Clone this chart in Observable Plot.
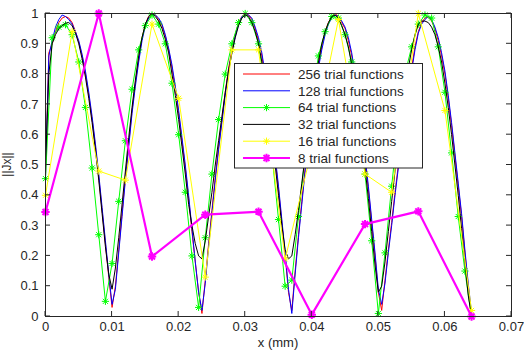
<!DOCTYPE html>
<html><head><meta charset="utf-8">
<script src="https://cdn.jsdelivr.net/npm/d3@7"></script>
<script src="https://cdn.jsdelivr.net/npm/@observablehq/plot@0.6"></script>
<style>body{margin:0;background:#fff} svg{display:block}</style>
</head><body><div id="chart"></div>
<script>
// tick labels
const xTicks = [0, 0.01, 0.02, 0.03, 0.04, 0.05, 0.06, 0.07];
const yTicks = [0, 0.1, 0.2, 0.3, 0.4, 0.5, 0.6, 0.7, 0.8, 0.9, 1];

// legend names
const names = ["256 trial functions", "128 trial functions", "64 trial functions",
               "32 trial functions", "16 trial functions", "8 trial functions"];

// x sampling steps of each series (mm)
const stepFine = 0.0005, step64 = 0.001, step16 = 0.004, step8 = 0.008;

// ||Jx||
const red256 = [
  0.47,0.87,0.90,0.94,0.97,0.985,0.99,0.985,0.97,0.94,
  0.905,0.86,0.80,0.73,0.65,0.56,0.46,0.35,0.24,0.13,
  0.03,0.10,0.22,0.34,0.46,0.57,0.68,0.77,0.85,0.92,
  0.965,0.99,1.0,0.995,0.98,0.96,0.925,0.88,0.82,0.75,
  0.67,0.58,0.49,0.39,0.28,0.18,0.08,0.01,0.12,0.24,
  0.35,0.46,0.56,0.65,0.74,0.82,0.88,0.93,0.97,0.99,
  1.0,0.995,0.98,0.95,0.91,0.86,0.79,0.71,0.62,0.52,
  0.42,0.31,0.20,0.08,0.02,0.15,0.27,0.38,0.49,0.59,
  0.68,0.76,0.83,0.89,0.94,0.97,0.99,1.0,0.99,0.97,
  0.95,0.91,0.86,0.79,0.71,0.62,0.52,0.42,0.31,0.20,
  0.08,0.02,0.12,0.22,0.31,0.41,0.50,0.58,0.66,0.74,
  0.82,0.89,0.94,0.97,0.985,0.99,0.975,0.95,0.91,0.86,
  0.80,0.72,0.63,0.53,0.43,0.33,0.21,0.10,0.0];
const blue128 = [
  0.46,0.86,0.91,0.955,0.98,0.995,0.99,0.98,0.965,0.94,
  0.91,0.865,0.81,0.74,0.66,0.57,0.47,0.36,0.25,0.14,
  0.04,0.09,0.21,0.33,0.45,0.56,0.67,0.76,0.84,0.91,
  0.96,0.985,0.995,0.995,0.985,0.965,0.93,0.885,0.83,0.76,
  0.68,0.59,0.50,0.40,0.29,0.18,0.08,0.02,0.11,0.23,
  0.34,0.45,0.55,0.64,0.73,0.81,0.87,0.925,0.965,0.99,
  0.995,0.995,0.985,0.955,0.92,0.87,0.80,0.72,0.63,0.53,
  0.43,0.32,0.21,0.09,0.01,0.14,0.26,0.37,0.48,0.58,
  0.67,0.75,0.82,0.88,0.93,0.965,0.985,0.995,0.99,0.975,
  0.955,0.92,0.87,0.80,0.72,0.63,0.53,0.43,0.32,0.21,
  0.09,0.04,0.11,0.21,0.30,0.40,0.49,0.57,0.65,0.73,
  0.81,0.88,0.935,0.965,0.98,0.99,0.98,0.955,0.92,0.87,
  0.81,0.73,0.64,0.54,0.44,0.34,0.22,0.11,0.01];
const black32 = [
  0.50,0.80,0.90,0.93,0.95,0.96,0.968,0.97,0.96,0.935,
  0.90,0.85,0.79,0.72,0.64,0.55,0.45,0.34,0.23,0.14,
  0.09,0.16,0.26,0.37,0.48,0.59,0.69,0.78,0.86,0.92,
  0.965,0.99,1.0,0.99,0.975,0.95,0.915,0.87,0.80,0.73,
  0.65,0.56,0.47,0.37,0.30,0.24,0.20,0.19,0.25,0.33,
  0.41,0.50,0.58,0.66,0.74,0.81,0.87,0.92,0.96,0.985,
  0.995,0.99,0.97,0.94,0.90,0.84,0.77,0.69,0.60,0.50,
  0.40,0.30,0.22,0.19,0.20,0.27,0.35,0.44,0.53,0.62,
  0.70,0.77,0.84,0.90,0.94,0.97,0.99,0.995,0.985,0.96,
  0.93,0.89,0.83,0.76,0.68,0.59,0.49,0.39,0.28,0.17,
  0.08,0.10,0.18,0.28,0.38,0.48,0.57,0.66,0.74,0.82,
  0.88,0.93,0.965,0.975,0.975,0.97,0.955,0.93,0.89,0.84,
  0.77,0.69,0.60,0.50,0.40,0.29,0.18,0.07,0.0];
const green64 = [
  0.455,0.92,0.955,0.963,0.93,0.84,0.69,0.49,0.27,0.05,
  0.175,0.38,0.58,0.75,0.88,0.96,0.995,0.965,0.9,0.77,
  0.6,0.41,0.2,0.03,0.26,0.47,0.65,0.8,0.9,0.97,
  1.0,0.97,0.9,0.75,0.54,0.32,0.1,0.12,0.33,0.53,
  0.72,0.86,0.94,0.99,0.985,0.93,0.84,0.68,0.47,0.25,
  0.01,0.21,0.43,0.64,0.8,0.89,0.965,0.995,0.985,0.89,
  0.74,0.54,0.33,0.15,0.0];
const yellow16 = [0.40,0.94,0.48,0.45,0.965,0.72,0.13,0.88,0.88,0.19,0.55,0.98,0.47,0.41,1.0,0.68,0.02];
const magenta8 = [0.345,1.0,0.198,0.336,0.346,0.006,0.305,0.347,0.0];

const colors = ["#ff0000", "#0000ff", "#00ff00", "#000000", "#ffff00", "#ff00ff"];

const toRows = (vals, step) => vals.map((v, i) => ({x: i * step, y: v}));
const series = [
  {rows: toRows(red256, stepFine), color: colors[0], w: 1, marker: false},
  {rows: toRows(blue128, stepFine), color: colors[1], w: 1, marker: false},
  {rows: toRows(green64, step64), color: colors[2], w: 1, marker: true, r: 3.6, mw: 1},
  {rows: toRows(black32, stepFine), color: colors[3], w: 1, marker: false},
  {rows: toRows(yellow16, step16), color: colors[4], w: 1, marker: true, r: 3.6, mw: 1},
  {rows: toRows(magenta8, step8), color: colors[5], w: 2.2, marker: true, r: 4.2, mw: 2}
];

// MATLAB-style 8-armed asterisk
const star8 = {draw(ctx, size) {
  const r = Math.sqrt(size / Math.PI), d = r * 0.7071;
  ctx.moveTo(-r, 0); ctx.lineTo(r, 0);
  ctx.moveTo(0, -r); ctx.lineTo(0, r);
  ctx.moveTo(-d, -d); ctx.lineTo(d, d);
  ctx.moveTo(-d, d); ctx.lineTo(d, -d);
}};

const marks = [];
for (const s of series) {
  marks.push(Plot.line(s.rows, {x: "x", y: "y", stroke: s.color, strokeWidth: s.w}));
  if (s.marker) marks.push(Plot.dot(s.rows, {x: "x", y: "y", symbol: star8, r: s.r, stroke: s.color, strokeWidth: s.mw, fill: "none"}));
}

const fmt = d => String(d);
const chart = Plot.plot({
  width: 524, height: 350,
  marginLeft: 45, marginRight: 13, marginTop: 13, marginBottom: 34,
  style: {fontFamily: "'Liberation Sans', Arial, sans-serif", fontSize: "13px", color: "#262626", background: "#fff"},
  x: {domain: [0, 0.07]},
  y: {domain: [0, 1]},
  marks: [
    Plot.axisX({ticks: xTicks, tickSize: 0, tickPadding: 5, tickFormat: fmt, label: null}),
    Plot.axisY({ticks: yTicks, tickSize: 0, tickPadding: 7, tickFormat: fmt, label: null}),
    ...marks,
    Plot.frame({stroke: "#262626"})
  ]
});
document.getElementById("chart").appendChild(chart);

const sx = chart.scale("x"), sy = chart.scale("y");
const svg = d3.select(chart);
const X0 = sx.apply(0), X1 = sx.apply(0.07), Y0 = sy.apply(0), Y1 = sy.apply(1);
const tg = svg.append("g").attr("stroke", "#262626").attr("stroke-width", 1);
for (const t of xTicks) {
  const p = sx.apply(t);
  tg.append("line").attr("x1", p).attr("x2", p).attr("y1", Y0).attr("y2", Y0 - 5);
  tg.append("line").attr("x1", p).attr("x2", p).attr("y1", Y1).attr("y2", Y1 + 5);
}
for (const t of yTicks) {
  const p = sy.apply(t);
  tg.append("line").attr("y1", p).attr("y2", p).attr("x1", X0).attr("x2", X0 + 5);
  tg.append("line").attr("y1", p).attr("y2", p).attr("x1", X1).attr("x2", X1 - 5);
}

// axis titles
svg.append("text").attr("x", (X0 + X1) / 2).attr("y", 347).attr("text-anchor", "middle")
  .attr("font-size", 13).attr("fill", "#262626").text("x (mm)");
svg.append("text").attr("transform", `translate(11,${(Y0 + Y1) / 2}) rotate(-90)`).attr("text-anchor", "middle")
  .attr("font-size", 12).attr("fill", "#262626").text("||Jx||");

// legend
const lg = svg.append("g").attr("font-size", 13.5).attr("text-anchor", "start");
lg.append("rect").attr("x", 234.5).attr("y", 63.5).attr("width", 188).attr("height", 104.5)
  .attr("fill", "#ffffff").attr("stroke", "#262626");
series.forEach((s, i) => {
  const cy = 74 + i * 16.8;
  lg.append("line").attr("x1", 243).attr("x2", 290).attr("y1", cy).attr("y2", cy)
    .attr("stroke", s.color).attr("stroke-width", s.w);
  if (s.marker) {
    const r = s.r, d = r * 0.7071, cx = 266.5;
    lg.append("path").attr("d", `M${cx - r},${cy}H${cx + r}M${cx},${cy - r}V${cy + r}M${cx - d},${cy - d}L${cx + d},${cy + d}M${cx - d},${cy + d}L${cx + d},${cy - d}`)
      .attr("stroke", s.color).attr("stroke-width", s.mw).attr("fill", "none");
  }
  lg.append("text").attr("x", 298).attr("y", cy + 4.8).attr("fill", "#262626").text(names[i]);
});
</script>
</body></html>
